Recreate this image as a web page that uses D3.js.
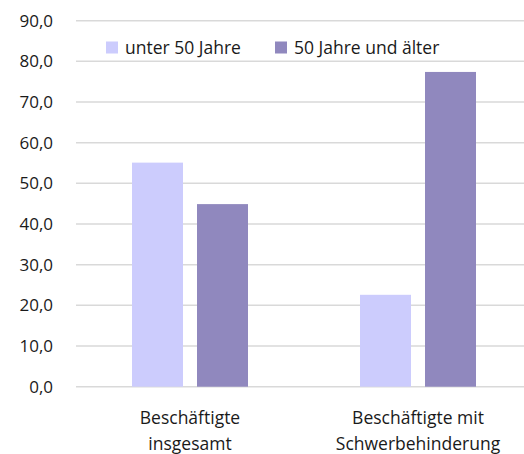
<!DOCTYPE html>
<html>
<head>
<meta charset="utf-8">
<script src="https://cdn.jsdelivr.net/npm/d3@7"></script>
<style>
  body { margin: 0; background: #fff; }
  svg text { font-family: "Open Sans", "Noto Sans", sans-serif; fill: #1a1a1a; }
</style>
</head>
<body>
<svg width="524" height="454"></svg>
<script>
//Categories on the x axis (each label split on two lines)
const categories = ["Beschäftigte insgesamt", "Beschäftigte mit Schwerbehinderung"];
const categoryLines = [["Beschäftigte", "insgesamt"], ["Beschäftigte mit", "Schwerbehinderung"]];
//Series names and values in percent
const seriesNames = ["unter 50 Jahre", "50 Jahre und älter"];
const under50 = [55.1, 22.6];
const over50 = [44.9, 77.4];
const seriesColors = ["#ccccfd", "#9088be"];
//Tick values of the y axis
const yTicks = [0, 10, 20, 30, 40, 50, 60, 70, 80, 90];

let svg = d3.select("svg"),
    margin = {top: 20.7, right: -8, bottom: 67.3, left: 76},
    width = +svg.attr("width") - margin.left - margin.right,
    height = +svg.attr("height") - margin.top - margin.bottom;

let g = svg.append("g")
    .attr("transform", "translate(" + margin.left + "," + margin.top + ")");

let x = d3.scaleBand().domain(categories).range([0, width]).paddingInner(0).paddingOuter(0);
//Two bars of 51px with a 14px gap, centred in each band
let x1 = d3.scaleBand().domain(seriesNames).range([56, x.bandwidth() - 56]).paddingInner(14 / 65);
let y = d3.scaleLinear().domain([0, 90]).range([height, 0]);

//Horizontal gridlines
g.selectAll(".grid")
  .data(yTicks)
  .enter().append("line")
  .attr("class", "grid")
  .attr("x1", 0)
  .attr("x2", width)
  .attr("y1", d => y(d))
  .attr("y2", d => y(d))
  .attr("stroke", "#d9d9d9")
  .attr("stroke-width", 1.5);

//Y axis labels
let yAxis = d3.axisLeft(y)
  .tickValues(yTicks)
  .tickSize(0)
  .tickPadding(23)
  .tickFormat(d => d3.format(".1f")(d).replace(".", ","));
g.append("g")
  .call(yAxis)
  .call(a => a.select(".domain").remove())
  .selectAll("text")
  .attr("font-size", 17)
  .attr("font-family", null)
  .attr("fill", "#1a1a1a");

//Bars
let rows = categories.map((c, i) => ({cat: c, values: [under50[i], over50[i]]}));
let groups = g.selectAll(".group")
  .data(rows)
  .enter().append("g")
  .attr("class", "group")
  .attr("transform", d => "translate(" + x(d.cat) + ",0)");

groups.selectAll("rect")
  .data(d => d.values.map((v, j) => ({name: seriesNames[j], value: v, color: seriesColors[j]})))
  .enter().append("rect")
  .attr("x", d => x1(d.name))
  .attr("width", x1.bandwidth())
  .attr("y", d => y(d.value))
  .attr("height", d => y(0) - y(d.value))
  .attr("fill", d => d.color);

//Category labels on two lines
groups.append("text")
  .attr("text-anchor", "middle")
  .attr("font-size", 17.5)
  .selectAll("tspan")
  .data((d, i) => categoryLines[i])
  .enter().append("tspan")
  .attr("x", x.bandwidth() / 2)
  .attr("y", (d, i) => height + 37.5 + i * 26)
  .text(d => d);

//Legend
let legendX = [106, 275];
let legend = svg.selectAll(".legend")
  .data(seriesNames)
  .enter().append("g")
  .attr("class", "legend")
  .attr("transform", (d, i) => "translate(" + legendX[i] + ",41.5)");
legend.append("rect")
  .attr("width", 12)
  .attr("height", 12)
  .attr("fill", (d, i) => seriesColors[i]);
legend.append("text")
  .attr("x", 19)
  .attr("y", 12)
  .attr("font-size", 17.5)
  .text(d => d);
</script>
</body>
</html>
